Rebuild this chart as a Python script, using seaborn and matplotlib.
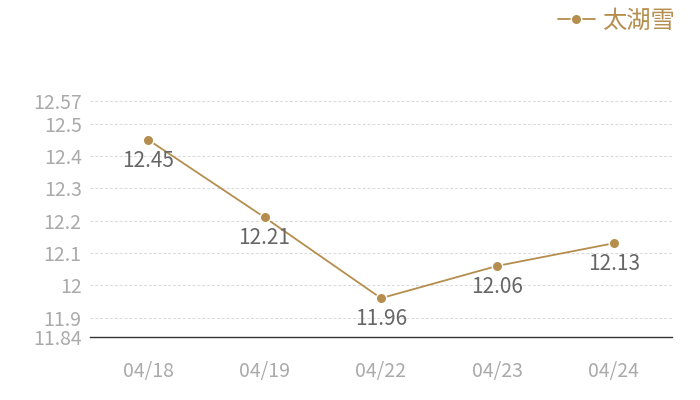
import matplotlib
matplotlib.use("Agg")
import matplotlib.pyplot as plt
import seaborn as sns
import pandas as pd

# dados do gráfico
datas = ["04/18", "04/19", "04/22", "04/23", "04/24"]
precos = [12.45, 12.21, 11.96, 12.06, 12.13]
serie = "太湖雪"
ticks_y = [11.84, 11.9, 12.0, 12.1, 12.2, 12.3, 12.4, 12.5, 12.57]
ticks_y_rotulos = ["11.84", "11.9", "12", "12.1", "12.2", "12.3", "12.4", "12.5", "12.57"]

COR = "#B58E4E"

sns.set_style("white")
plt.rcParams["font.family"] = ["Noto Sans CJK SC", "DejaVu Sans"]

df = pd.DataFrame({"data": datas, "preco": precos, "serie": serie})

fig = plt.figure(figsize=(7, 4), dpi=100)
ax = fig.add_axes([90 / 700, 1 - 337 / 400, 582 / 700, 236 / 400])

sns.lineplot(data=df, x="data", y="preco", hue="serie", palette=[COR], sort=False,
             marker="o", markersize=7.5, markeredgecolor="white", markeredgewidth=1,
             linewidth=1.3, ax=ax, legend=True)

ax.set_xlim(-0.5, len(datas) - 0.5)
ax.set_ylim(11.84, 12.57)
ax.set_yticks(ticks_y)
ax.set_yticklabels(ticks_y_rotulos)
ax.set_xlabel("")
ax.set_ylabel("")

# grade tracejada, menos na base
for v in ticks_y[1:]:
    ax.axhline(v, color="#d9d9d9", linestyle=(0, (3, 2)), linewidth=0.7, zorder=0)

for lado in ["top", "right", "left"]:
    ax.spines[lado].set_visible(False)
ax.spines["bottom"].set_color("#333333")
ax.spines["bottom"].set_linewidth(1)

ax.tick_params(axis="both", length=0, labelsize=14, labelcolor="#aaaaaa")
ax.tick_params(axis="x", pad=17)
ax.tick_params(axis="y", pad=6)

# rótulos de valor abaixo dos pontos
for i, v in enumerate(precos):
    ax.annotate(f"{v:g}", (i, v), xytext=(0, -15), textcoords="offset points",
                ha="center", va="center", fontsize=15, color="#666666")

ax.get_legend().remove()
handles, labels = ax.get_legend_handles_labels()
leg = fig.legend(handles, labels, loc="upper right", bbox_to_anchor=(0.995, 1.035),
                 frameon=False, fontsize=17.5, labelcolor=COR, handlelength=1.5,
                 handletextpad=0.3)

plt.savefig("out.png", dpi=100)
